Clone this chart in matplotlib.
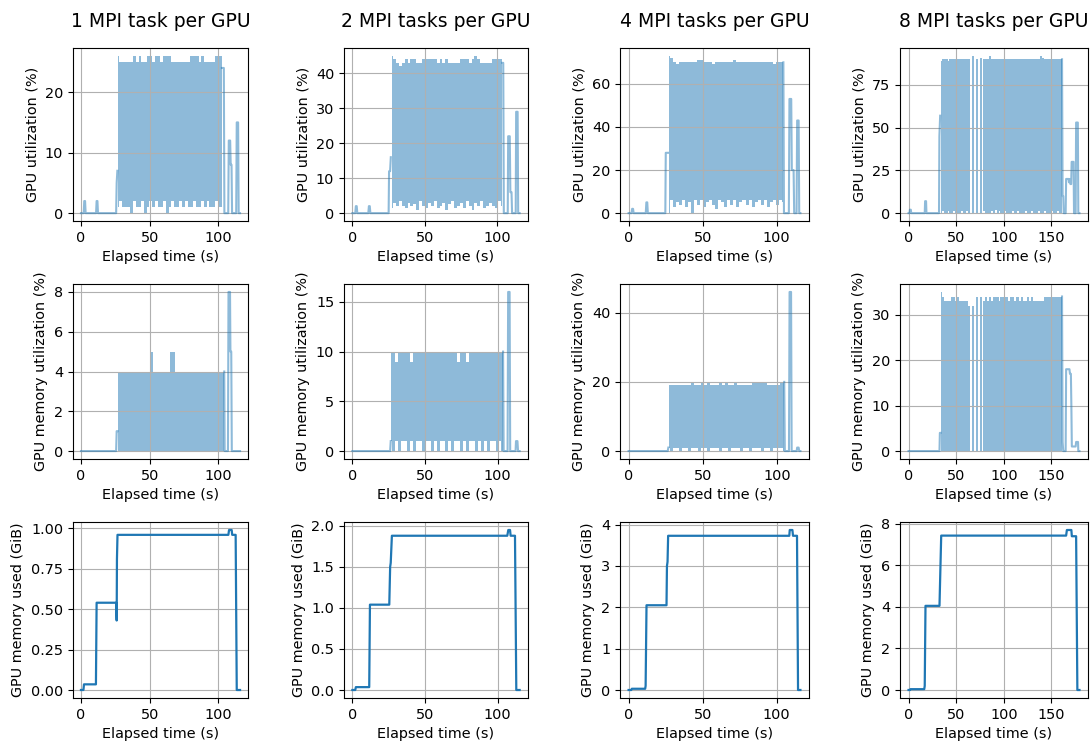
import numpy as np
import matplotlib
matplotlib.use("Agg")
import matplotlib.pyplot as plt
from matplotlib.ticker import MaxNLocator

titles = ["1 MPI task per GPU", "2 MPI tasks per GPU", "4 MPI tasks per GPU", "8 MPI tasks per GPU"]
xlabel = "Elapsed time (s)"
ylabels = ["GPU utilization (%)", "GPU memory utilization (%)", "GPU memory used (GiB)"]

# ---------------- GPU utilization (%) ----------------
# busy phase: per 2-s bin, upper (peak) and lower (trough) level of the fast oscillation
# 1 task
u1_pre_t = [0, 2, 2.4, 3, 3.4, 11, 11.4, 12, 12.4, 25.6, 26, 26.5]
u1_pre_v = [0, 0, 2, 2, 0, 0, 2, 2, 0, 0, 5, 7]
u1_busy = (27, 102.5)
u1_peaks = [26, 25, 25, 25, 25, 25, 26, 25, 26, 25, 25, 26, 26, 25, 26, 26, 25, 26, 26, 26,
            25, 25, 25, 25, 25, 25, 25, 26, 26, 26, 25, 26, 25, 25, 25, 25, 26, 26, 26]
u1_troughs = [1, 2, 1, 1, 1, 0, 2, 1, 1, 2, 0, 1, 2, 1, 2, 1, 1, 2, 0, 1,
              2, 1, 1, 2, 1, 2, 1, 1, 2, 1, 1, 2, 1, 2, 1, 1, 2, 1, 1]
u1_post_t = [102.6, 104, 104.4, 107.2, 107.6, 108.6, 109, 109.6, 110, 113, 113.4, 114.4, 114.8, 115.8]
u1_post_v = [24, 24, 0, 0, 12, 12, 8, 8, 0, 0, 15, 15, 0, 0]

# 2 tasks
u2_pre_t = [0, 2, 2.4, 3, 3.4, 11, 11.4, 12, 12.4, 25, 25.3, 26, 26.5]
u2_pre_v = [0, 0, 2, 2, 0, 0, 2, 2, 0, 0, 12, 12, 16]
u2_busy = (27, 103.2)
u2_peaks = [45, 44, 43, 42, 43, 44, 43, 44, 44, 43, 43, 44, 44, 44, 44, 44, 43, 44, 43, 44,
            43, 43, 43, 43, 44, 44, 44, 43, 44, 45, 44, 43, 43, 43, 43, 44, 44, 44, 44]
u2_troughs = [1.5, 3, 2, 3.5, 2, 1.5, 3, 2, 2.5, 1, 3.5, 2, 1.5, 3, 2, 3.5, 1.5, 2, 3, 1,
              2.5, 3.5, 1.5, 2, 3, 1.5, 3.5, 2, 1, 3, 2, 3.5, 1.5, 2, 3, 2, 1.5, 3.5, 2]
u2_post_t = [103.3, 104, 104.4, 107.1, 107.4, 108.5, 108.9, 109.7, 110.1, 112.6, 112.9, 113.9, 114.3, 115.3]
u2_post_v = [43, 43, 0, 0, 22, 22, 6, 6, 0, 0, 29, 29, 0, 0]

# 4 tasks
u4_pre_t = [0, 2, 2.4, 3, 3.4, 11.6, 12, 12.6, 13, 24.8, 25.1, 26.3, 26.6]
u4_pre_v = [0, 0, 2, 2, 0, 0, 5, 5, 0, 0, 28, 28, 28]
u4_busy = (27, 104.4)
u4_peaks = [73, 72, 70, 69, 70, 70, 70, 70, 70, 70, 71, 71, 70, 70, 70, 69, 70, 70, 70, 70,
            70, 70, 71, 70, 70, 70, 70, 70, 70, 70, 70, 70, 70, 70, 70, 69, 70, 70, 70]
u4_troughs = [0, 6, 3, 5, 4, 6, 3, 5, 0, 6, 4, 6, 3, 5, 6, 4, 2, 6, 5, 3,
              6, 4, 6, 3, 5, 6, 4, 6, 3, 5, 6, 4, 6, 3, 5, 6, 4, 6, 5]
u4_post_t = [104.5, 104.9, 108.2, 108.6, 109.8, 110.2, 111.4, 111.8, 113.4, 113.8, 114.8, 115.2, 116]
u4_post_v = [70, 0, 0, 53, 53, 20, 20, 0, 0, 43, 43, 0, 0]

# 8 tasks
u8_pre_t = [0, 1, 1.4, 2.4, 2.8, 17, 17.4, 18.4, 18.8, 32, 32.4, 33.2]
u8_pre_v = [0, 0, 2, 2, 0, 0, 7, 7, 0, 0, 45, 57]
u8_busy = (34, 161)
u8_peaks = [89, 90, 90, 90, 89, 90, 90, 90, 90, 90,
            90, 90, 90, 90, 90, 90, 0, 92, 0, 90,
            0, 91, 0, 90, 90, 90, 92, 90, 90, 90,
            90, 90, 90, 90, 90, 90, 90, 90, 90, 90,
            90, 90, 90, 90, 90, 90, 90, 90, 90, 90,
            90, 90, 90, 92, 91, 90, 90, 90, 90, 90,
            90, 90, 90, 90, 90]
u8_troughs = [0, 1, 0, 0, 1, 0, 0, 1, 0, 0,
              0, 1, 0, 0, 1, 0, 0, 0, 0, 0,
              0, 0, 0, 1, 0, 0, 0, 1, 0, 2,
              0, 1, 0, 0, 1, 0, 0, 0, 1, 0,
              0, 1, 0, 0, 0, 1, 0, 0, 1, 0,
              0, 0, 1, 0, 0, 1, 0, 0, 0, 1,
              0, 0, 1, 0, 0]
u8_post_t = [161.2, 161.8, 162.5, 163, 165, 165.5, 168, 168.5, 169.5, 170, 170.8, 171.3, 173.3,
             173.8, 175.5, 176, 177.8, 178.3, 179.5]
u8_post_v = [90, 10, 10, 0, 0, 20, 20, 18, 20, 17, 17, 30, 30, 0, 0, 53, 53, 0, 0]

# ---------------- GPU memory utilization (%) ----------------
m1_pre_t = [0, 25.6, 26, 26.6]
m1_pre_v = [0, 0, 1, 1]
m1_busy = (27, 104.2)
m1_peaks = [4, 4, 4, 4, 4, 4, 4, 4, 4, 4, 4, 4, 5, 4, 4, 4, 4, 4, 4, 5,
            5, 4, 4, 4, 4, 4, 4, 4, 4, 4, 4, 4, 4, 4, 4, 4, 4, 4, 4]
m1_troughs = [0, 0, 0, 0, 0, 0, 0, 0, 0, 0, 0, 0, 0, 0, 0, 0, 0, 0, 0, 0,
              0, 0, 0, 0, 0, 0, 0, 0, 0, 0, 0, 0, 0, 0, 0, 0, 0, 0, 0]
m1_post_t = [104.3, 104.6, 107, 107.4, 108.5, 108.8, 109.4, 109.8, 115.8]
m1_post_v = [4, 0, 0, 8, 8, 5, 5, 0, 0]

m2_pre_t = [0, 26, 26.4]
m2_pre_v = [0, 0, 1]
m2_busy = (26.6, 103.6)
m2_peaks = [10, 10, 9, 10, 10, 10, 10, 9, 10, 10, 10, 10, 10, 10, 10, 10, 10, 10, 10, 10,
            10, 10, 10, 9, 10, 10, 9, 10, 10, 10, 10, 10, 10, 10, 10, 10, 10, 10, 10]
m2_troughs = [1, 0, 1, 0, 1, 1, 0, 1, 0, 1, 1, 0, 1, 1, 0, 1, 0, 1, 1, 0,
              1, 0, 1, 1, 0, 1, 0, 1, 1, 0, 1, 0, 1, 0, 1, 1, 0, 1, 0]
m2_post_t = [103.7, 104.1, 106.8, 107.2, 108.2, 108.6, 112.3, 112.6, 113.6, 114, 115.1]
m2_post_v = [10, 0, 0, 16, 16, 0, 0, 1, 1, 0, 0]

m4_pre_t = [0, 26.4, 26.8]
m4_pre_v = [0, 0, 1]
m4_busy = (27, 104.8)
m4_peaks = [19, 19, 19, 19, 19, 19, 19, 19, 20, 19, 19, 20, 19, 20, 19, 19, 19, 20, 19, 20,
            19, 19, 20, 19, 19, 19, 19, 19, 20, 20, 20, 20, 20, 19, 19, 19, 19, 20, 20]
m4_troughs = [1, 0, 1, 1, 0, 1, 1, 0, 1, 1, 0, 1, 1, 0, 1, 1, 1, 0, 1, 1,
              0, 1, 1, 1, 0, 1, 1, 0, 1, 1, 1, 0, 1, 1, 0, 1, 1, 1, 0]
m4_post_t = [104.9, 105.3, 108.1, 108.5, 109.5, 109.9, 113.3, 113.6, 114.6, 115, 115.8]
m4_post_v = [20, 0, 0, 46, 46, 0, 0, 1, 1, 0, 0]

m8_pre_t = [0, 32.5, 32.9, 33.6]
m8_pre_v = [0, 0, 4, 4]
m8_busy = (34, 161)
m8_peaks = [35, 34, 33, 33, 33, 33, 34, 34, 33, 34,
            33, 33, 33, 33, 33, 32, 0, 32, 0, 34,
            0, 34, 0, 33, 34, 33, 34, 33, 34, 34,
            34, 33, 34, 34, 34, 34, 33, 34, 34, 33,
            34, 34, 33, 34, 33, 33, 34, 33, 34, 33,
            33, 33, 33, 33, 33, 34, 34, 34, 34, 34,
            34, 34, 34, 34, 34]
m8_troughs = [0, 0, 0, 0, 0, 0, 0, 0, 0, 0,
              0, 0, 0, 0, 0, 0, 0, 0, 0, 0,
              0, 0, 0, 0, 0, 0, 0, 0, 0, 0,
              0, 0, 0, 0, 0, 0, 0, 0, 0, 0,
              0, 0, 0, 0, 0, 0, 0, 0, 0, 0,
              0, 0, 0, 0, 0, 0, 0, 0, 0, 0,
              0, 0, 0, 0, 0]
m8_post_t = [161.2, 161.8, 162.5, 165, 165.5, 169, 169.5, 170.5, 171, 171.5, 175.5, 176, 178,
             178.3, 179.5]
m8_post_v = [34, 2, 0, 0, 18, 18, 17, 17, 10, 1, 1, 2, 2, 0, 0]

# ---------------- GPU memory used (GiB) ----------------
g1_t = [0, 1.8, 2.2, 10.9, 11.4, 25.6, 26, 26.2, 26.6, 107.3, 107.8, 109.7, 110.1, 112.6, 113.4, 115.8]
g1_v = [0, 0, 0.035, 0.035, 0.54, 0.54, 0.43, 0.81, 0.96, 0.96, 0.99, 0.99, 0.96, 0.96, 0, 0]
g2_t = [0, 2, 2.4, 11.6, 12.1, 25.4, 26, 26.4, 27.2, 106.6, 107.3, 108.5, 108.9, 111.9, 112.8, 115.1]
g2_v = [0, 0, 0.035, 0.035, 1.04, 1.04, 1.5, 1.55, 1.88, 1.88, 1.95, 1.95, 1.88, 1.88, 0, 0]
g4_t = [0, 1.8, 2.2, 11.2, 11.5, 12.1, 25.6, 25.9, 26.3, 26.7, 108.5, 108.8, 110.6, 111, 113.7, 114.4, 116]
g4_v = [0, 0, 0.03, 0.03, 0.1, 2.05, 2.05, 3.0, 3.1, 3.73, 3.73, 3.87, 3.87, 3.73, 3.73, 0, 0]
g8_t = [0, 1.5, 2, 16.5, 17, 17.8, 32.5, 34.3, 165.5, 166.3, 171, 171.5, 176, 177.3, 179.5]
g8_v = [0, 0, 0.04, 0.04, 0.2, 4.05, 4.05, 7.43, 7.43, 7.7, 7.7, 7.4, 7.4, 0, 0]

util = [
    (u1_pre_t, u1_pre_v, u1_busy, u1_peaks, u1_troughs, u1_post_t, u1_post_v),
    (u2_pre_t, u2_pre_v, u2_busy, u2_peaks, u2_troughs, u2_post_t, u2_post_v),
    (u4_pre_t, u4_pre_v, u4_busy, u4_peaks, u4_troughs, u4_post_t, u4_post_v),
    (u8_pre_t, u8_pre_v, u8_busy, u8_peaks, u8_troughs, u8_post_t, u8_post_v),
]
memutil = [
    (m1_pre_t, m1_pre_v, m1_busy, m1_peaks, m1_troughs, m1_post_t, m1_post_v),
    (m2_pre_t, m2_pre_v, m2_busy, m2_peaks, m2_troughs, m2_post_t, m2_post_v),
    (m4_pre_t, m4_pre_v, m4_busy, m4_peaks, m4_troughs, m4_post_t, m4_post_v),
    (m8_pre_t, m8_pre_v, m8_busy, m8_peaks, m8_troughs, m8_post_t, m8_post_v),
]
memused = [(g1_t, g1_v), (g2_t, g2_v), (g4_t, g4_v), (g8_t, g8_v)]

W, H = 1092, 742
col_px = [(73, 248), (344, 528), (620, 809), (900, 1088)]
row_px = [(48, 221), (284, 459), (522, 698)]

FS = 10.4
plt.rcParams.update({"font.size": FS, "axes.labelsize": FS,
                     "xtick.labelsize": FS, "ytick.labelsize": FS})

fig = plt.figure(figsize=(W / 100, H / 100), dpi=100)
axes = np.empty((3, 4), dtype=object)
for i, (yt, yb) in enumerate(row_px):
    for j, (xl, xr) in enumerate(col_px):
        axes[i, j] = fig.add_axes([xl / W, 1 - yb / H, (xr - xl) / W, (yb - yt) / H])


def draw_activity(ax, pre_t, pre_v, busy, peaks, troughs, post_t, post_v):
    n = min(len(peaks), len(troughs))
    bt = np.linspace(busy[0], busy[1], n)
    ax.fill_between(bt, troughs[:n], peaks[:n], step="mid", color="C0", alpha=0.5, lw=0)
    ax.plot(pre_t, pre_v, color="C0", alpha=0.5, lw=1.5)
    ax.plot(post_t, post_v, color="C0", alpha=0.5, lw=1.5)


for j in range(4):
    ax = axes[0, j]
    draw_activity(ax, *util[j])
    ax.set_title(titles[j], fontsize=13.5, pad=15)
    ax.set_ylabel(ylabels[0])

    ax = axes[1, j]
    draw_activity(ax, *memutil[j])
    ax.set_ylabel(ylabels[1])

    ax = axes[2, j]
    ax.plot(memused[j][0], memused[j][1], color="C0", lw=1.6)
    ax.set_ylabel(ylabels[2])

for ax in axes.flat:
    ax.set_xlabel(xlabel)
    ax.grid(True)
    ax.yaxis.set_major_locator(MaxNLocator(nbins=5, steps=[1, 2, 2.5, 5, 10]))

fig.savefig("out.png", dpi=100)
